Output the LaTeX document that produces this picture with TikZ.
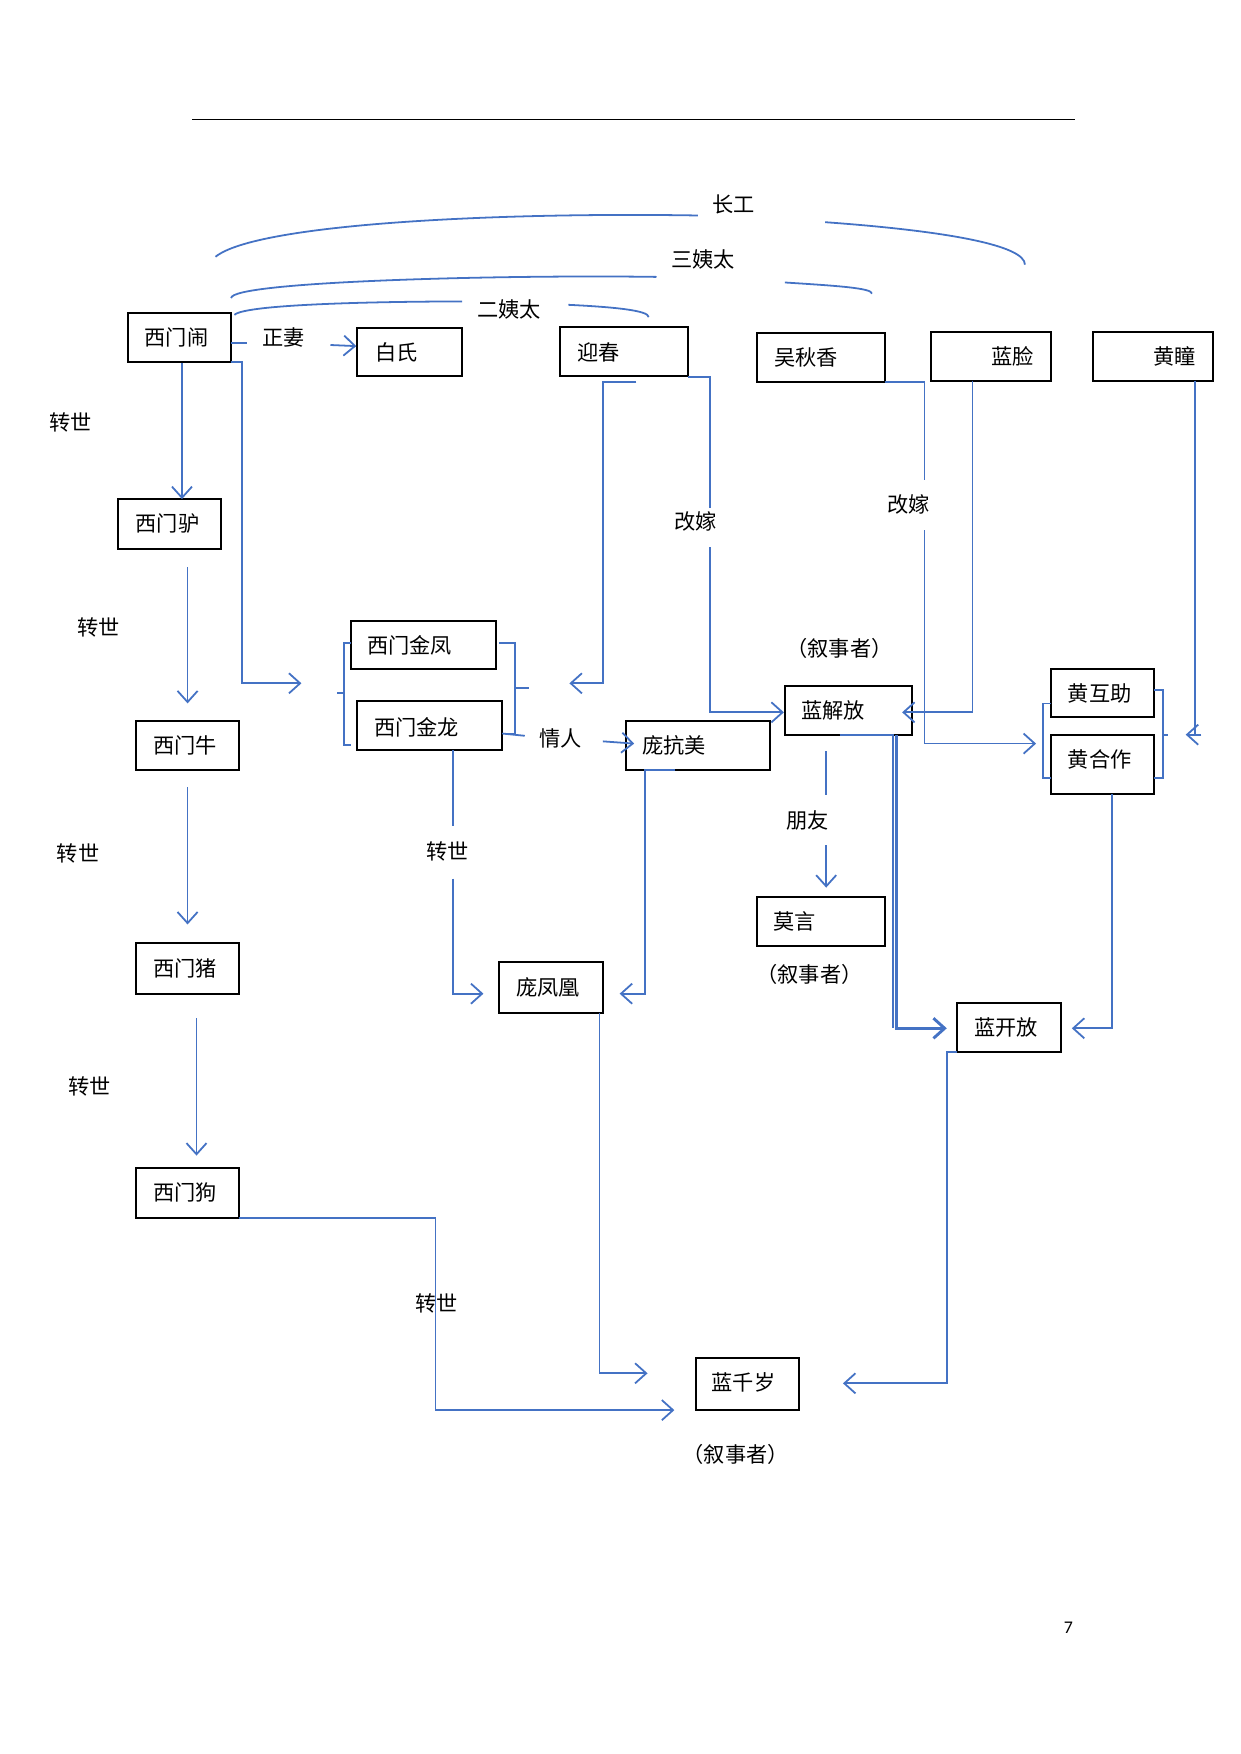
\documentclass[tikz,border=0pt]{standalone}
\usepackage{fontspec}
\setmainfont{Noto Sans CJK SC}
\usetikzlibrary{arrows.meta}
\definecolor{lb}{RGB}{68,114,196}
\begin{document}
\begin{tikzpicture}[x=0.5pt,y=-0.5pt,
 box/.style={draw=black,line width=0.9pt,inner sep=0pt},
 ln/.style={draw=lb,line width=0.8pt},
 ar/.style={ln,-{Straight Barb[length=5pt,width=9pt]}},
 lab/.style={font=\fontsize{9.5}{11}\selectfont,inner sep=0pt}]
\useasboundingbox (0,0) rectangle (1111,1571);
\newcommand\bx[5]{\node[box,minimum width={(#4-#2)*0.5pt},minimum height={(#5-#3)*0.5pt}] (#1) at ({(#2+#4)/2},{(#3+#5)/2}) {};}
\draw[line width=0.8pt] (172,107) -- (963,107);
\bx{ximennao}{115}{280}{207}{324}\node[lab] at (158,302){西门闹};
\bx{baishi}{320}{294}{414}{337}\node[lab] at (355,316){白氏};
\bx{yingchun}{502}{293}{616}{337}\node[lab] at (536,316){迎春};
\bx{wuqiuxiang}{678}{298}{793}{342}\node[lab] at (722,320){吴秋香};
\bx{lanlian}{834}{297}{941}{341}\node[lab] at (907,319){蓝脸};
\bx{huangtong}{979}{297}{1086}{341}\node[lab] at (1052,319){黄瞳};
\bx{ximenlv}{106}{447}{198}{492}\node[lab] at (150,469){西门驴};
\bx{jinfeng}{314}{556}{444}{599}\node[lab] at (367,578){西门金凤};
\bx{jinlong}{320}{628}{450}{672}\node[lab] at (373,651){西门金龙};
\bx{pangkangmei}{561}{646}{690}{690}\node[lab] at (604,668){庞抗美};
\bx{lanjiefang}{703}{614}{817}{658}\node[lab] at (746,636){蓝解放};
\bx{huhuzhu}{941}{599}{1034}{642}\node[lab] at (985,621){黄互助};
\bx{hehezuo}{941}{658}{1034}{711}\node[lab] at (985,680){黄合作};
\bx{ximenniu}{122}{646}{214}{690}\node[lab] at (166,668){西门牛};
\bx{moyan}{678}{803}{793}{847}\node[lab] at (712,825){莫言};
\bx{ximenzhu}{122}{845}{214}{890}\node[lab] at (166,867){西门猪};
\bx{pangfenghuang}{447}{862}{540}{907}\node[lab] at (491,884){庞凤凰};
\bx{lankaifang}{857}{898}{950}{942}\node[lab] at (901,920){蓝开放};
\bx{ximengou}{122}{1046}{214}{1091}\node[lab] at (166,1068){西门狗};
\bx{lanqiansui}{623}{1216}{716}{1263}\node[lab] at (666,1238){蓝千岁};
% arcs
\draw[ln] (193,230) .. controls (230,200) and (450,190) .. (625,193);
\draw[ln] (739,199) .. controls (850,207) and (918,220) .. (918,237);
\node[lab] at (657,183){长工};
\draw[ln] (207,267) .. controls (207,252) and (450,246) .. (588,248);
\draw[ln] (703,253) .. controls (750,256) and (781,258) .. (781,263);
\node[lab] at (630,232){三姨太};
\draw[ln] (210,282) .. controls (220,272) and (350,270) .. (414,270);
\draw[ln] (509,273) .. controls (550,275) and (581,278) .. (581,284);
\node[lab] at (456,277){二姨太};
% labels
\node[lab] at (254,302){正妻};
\node[lab] at (63,378){转世};
\node[lab] at (88,562){转世};
\node[lab] at (70,764){转世};
\node[lab] at (80,973){转世};
\node[lab] at (623,467){改嫁};
\node[lab] at (814,452){改嫁};
\node[lab] at (502,661){情人};
\node[lab] at (401,763){转世};
\node[lab] at (723,735){朋友};
\node[lab] at (391,1167){转世};
\node[lab] at (752,581){（叙事者）};
\node[lab] at (725,873){（叙事者）};
\node[lab] at (659,1303){（叙事者）};
% connectors
\draw[ln] (207,307) -- (221,307);
\draw[ar] (296,309) -- (baishi.west|-0,310);
\draw[ar] (ximennao.south-|163,0) -- (163,447);
\draw[ar] (207,324) -- (217,324) -- (217,612) -- (270,612);
\draw[ln] (314,576) -- (308,576) -- (308,667) -- (314,667) (308,621) -- (302,621);
\draw[ln] (447,576) -- (461,576) -- (461,657) -- (450,657) (461,616) -- (474,616);
\draw[ar] (570,342) -- (540,342) -- (540,612) -- (510,612);
\draw[ln] (616,338) -- (636,338) -- (636,455);
\draw[ar] (636,490) -- (636,638) -- (lanjiefang.west|-0,638);
\draw[ln] (793,342) -- (828,342) -- (828,430);
\draw[ar] (828,475) -- (828,666) -- (928,666);
\draw[ar] (871,341) -- (871,638) -- (808,638);
\draw[ln] (1070,341) -- (1070,658);
\draw[ar] (1076,658) -- (1062,658);
\draw[ln] (941,630) -- (934,630) -- (934,697) -- (941,697);
\draw[ln] (1034,618) -- (1042,618) -- (1042,697) -- (1034,697) (1042,658) -- (1046,658);
\draw[ln] (450,657) -- (470,659);
\draw[ar] (540,664) -- (568,666);
\draw[ln] (406,672) -- (406,740);
\draw[ar] (406,787) -- (406,890) -- (433,890);
\draw[ar] (605,690) -- (578,690) -- (578,890) -- (555,890);
\draw[ln] (740,673) -- (740,712);
\draw[ar] (740,757) -- (740,795);
\draw[ln] (752,658) -- (800,658) -- (800,921);
\draw[ar,line width=1.3pt] (803,658) -- (803,921) -- (848,921);
\draw[ar] (996,711) -- (996,921) -- (960,921);
\draw[ar] (857,942) -- (848,942) -- (848,1239) -- (755,1239);
\draw[ar] (537,907) -- (537,1230) -- (580,1230);
\draw[ar] (214,1091) -- (390,1091) -- (390,1263) -- (604,1263);
\draw[ar] (168,508) -- (168,630);
\draw[ar] (168,705) -- (168,828);
\draw[ar] (176,912) -- (176,1035);
\node[font=\fontsize{8}{9}\selectfont\fontspec{Carlito}] at (957,1458){7};
\end{tikzpicture}
\end{document}
